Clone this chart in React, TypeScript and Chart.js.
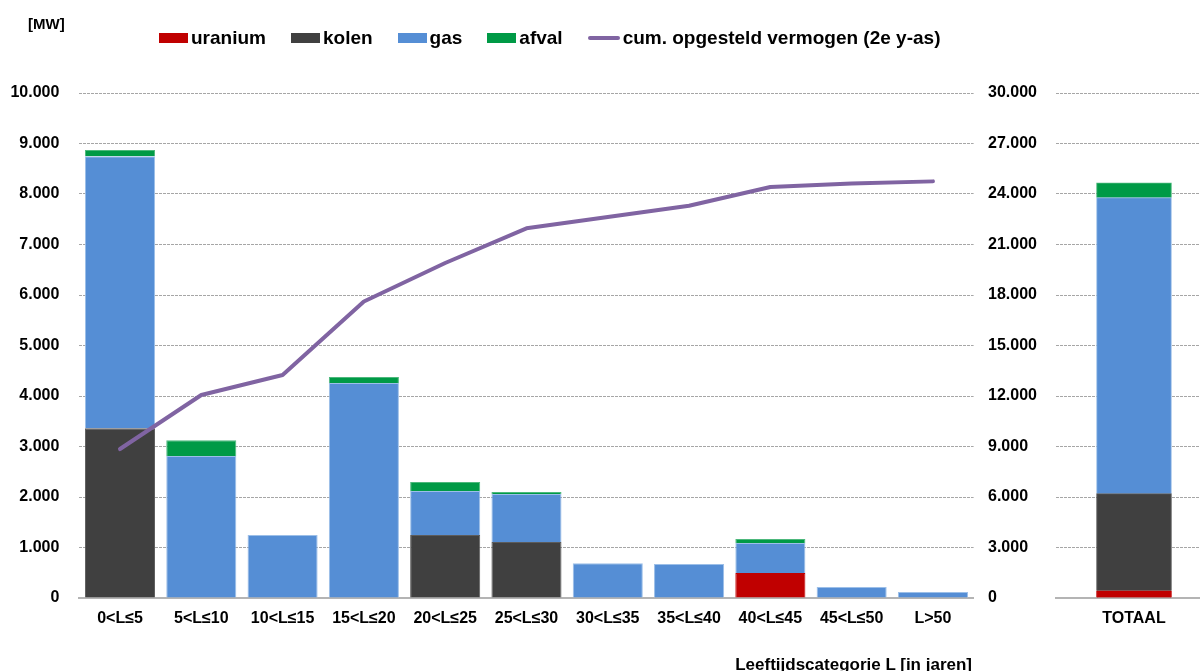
import React, { useEffect, useRef } from "react";
import { Chart, registerables } from "chart.js";

Chart.register(...registerables);

const categories = ["0<L≤5", "5<L≤10", "10<L≤15", "15<L≤20", "20<L≤25", "25<L≤30", "30<L≤35", "35<L≤40", "40<L≤45", "45<L≤50", "L>50"];
const uranium = [0, 0, 0, 0, 0, 0, 0, 0, 495, 0, 0];
const kolen = [3360, 0, 0, 0, 1250, 1110, 0, 0, 0, 0, 0];
const gas = [5390, 2810, 1250, 4255, 870, 950, 690, 675, 595, 220, 120];
const afval = [120, 315, 0, 120, 175, 40, 0, 0, 80, 0, 0];
const cumulatief = [8850, 12060, 13250, 17610, 19900, 21960, 22630, 23300, 24420, 24620, 24750];

const totaalLabels = ["TOTAAL"];
const totaalUranium = [430];
const totaalKolen = [5770];
const totaalGas = [17580];
const totaalAfval = [880];

const leftMax = 10000;
const leftStep = 1000;
const rightMax = 30000;
const rightStep = 3000;

const legendItems = [
  { label: "uranium", color: "#c00000", type: "box" },
  { label: "kolen", color: "#404040", type: "box" },
  { label: "gas", color: "#558ed5", type: "box" },
  { label: "afval", color: "#009a46", type: "box" },
  { label: "cum. opgesteld vermogen (2e y-as)", color: "#8064a2", type: "line" },
];

const FONT = "'Liberation Sans', Arial, Helvetica, sans-serif";
const fmt = (v: any) => String(v).replace(/\B(?=(\d{3})+(?!\d))/g, ".");

const GRID = "#a6a6a6";
const AXIS = "#b4b4b4";

const colors = {
  uranium: { bg: "#c00000", border: "#c00000" },
  kolen: { bg: "#404040", border: "#5c5c5c" },
  gas: { bg: "#558ed5", border: "#9cbfe8" },
  afval: { bg: "#009a46", border: "#4db87c" },
};

function barSet(label: string, data: number[], c: { bg: string; border: string }, extra: any) {
  return {
    type: "bar" as const,
    label,
    data,
    backgroundColor: c.bg,
    borderColor: c.border,
    borderWidth: 1,
    order: 1,
    ...extra,
  };
}

export default function App() {
  const mainRef = useRef<HTMLCanvasElement>(null);
  const totRef = useRef<HTMLCanvasElement>(null);

  useEffect(() => {
    Chart.defaults.font.family = FONT;
    const tickFont = { family: FONT, size: 16, weight: "bold" as const };

    const barExtra = { barPercentage: 0.862, categoryPercentage: 1, yAxisID: "y" };

    const c1 = new Chart(mainRef.current!, {
      type: "bar",
      data: {
        labels: categories,
        datasets: [
          {
            type: "line" as const,
            label: "cum. opgesteld vermogen (2e y-as)",
            data: cumulatief,
            borderColor: "#8064a2",
            backgroundColor: "#8064a2",
            borderWidth: 4,
            borderCapStyle: "round",
            borderJoinStyle: "round",
            pointRadius: 0,
            tension: 0,
            yAxisID: "y2",
            order: 0,
          } as any,
          barSet("uranium", uranium, colors.uranium, barExtra),
          barSet("kolen", kolen, colors.kolen, barExtra),
          barSet("gas", gas, colors.gas, barExtra),
          barSet("afval", afval, colors.afval, barExtra),
        ],
      },
      options: {
        responsive: false,
        maintainAspectRatio: false,
        animation: false,
        layout: { padding: { top: 93, left: 0, right: 11.4, bottom: 0 } },
        plugins: { legend: { display: false }, tooltip: { enabled: false } },
        scales: {
          x: {
            stacked: true,
            grid: { display: false, drawTicks: false },
            border: { display: true, color: AXIS, width: 2 },
            ticks: { font: tickFont, color: "#000", padding: 11, maxRotation: 0, autoSkip: false },
            afterFit: (s: any) => { s.height = 73; },
          },
          y: {
            stacked: true,
            min: 0,
            max: leftMax,
            grid: { color: GRID, lineWidth: 1, drawTicks: false },
            border: { display: false, dash: [3, 1] },
            ticks: { stepSize: leftStep, font: tickFont, color: "#000", padding: 20, callback: (v: any) => fmt(v) },
            afterFit: (s: any) => { s.width = 79.35; },
          },
          y2: {
            display: false,
            min: 0,
            max: rightMax,
            position: "right",
          },
        },
      } as any,
    });

    const totExtra = { barThickness: 75 };
    const c2 = new Chart(totRef.current!, {
      type: "bar",
      data: {
        labels: totaalLabels,
        datasets: [
          barSet("uranium", totaalUranium, colors.uranium, totExtra),
          barSet("kolen", totaalKolen, colors.kolen, totExtra),
          barSet("gas", totaalGas, colors.gas, totExtra),
          barSet("afval", totaalAfval, colors.afval, totExtra),
        ],
      },
      options: {
        responsive: false,
        maintainAspectRatio: false,
        animation: false,
        layout: { padding: { top: 93, left: 8, right: 0, bottom: 0 } },
        plugins: { legend: { display: false }, tooltip: { enabled: false } },
        scales: {
          x: {
            stacked: true,
            grid: { display: false, drawTicks: false },
            border: { display: true, color: AXIS, width: 2 },
            ticks: { font: tickFont, color: "#000", padding: 11, maxRotation: 0 },
            afterFit: (s: any) => { s.height = 73; },
          },
          y: {
            stacked: true,
            min: 0,
            max: rightMax,
            grid: { color: GRID, lineWidth: 1, drawTicks: false },
            border: { display: false, dash: [3, 1] },
            ticks: { stepSize: rightStep, font: tickFont, color: "#000", crossAlign: "far", callback: (v: any) => fmt(v) },
            afterFit: (s: any) => { s.width = 68; },
          },
        },
      } as any,
    });

    return () => {
      c1.destroy();
      c2.destroy();
    };
  }, []);

  return (
    <div
      style={{
        position: "fixed",
        left: 0,
        top: 0,
        width: 1200,
        height: 671,
        overflow: "hidden",
        background: "#fff",
        fontFamily: FONT,
        color: "#000",
      }}
    >
      <canvas ref={mainRef} width={985} height={671} style={{ position: "absolute", left: 0, top: 0, width: 985, height: 671 }} />
      <canvas ref={totRef} width={232} height={671} style={{ position: "absolute", left: 980, top: 0, width: 232, height: 671 }} />
      <div style={{ position: "absolute", left: 28, top: 15, fontSize: 15, fontWeight: "bold", lineHeight: "18px" }}>[MW]</div>
      <div
        style={{
          position: "absolute",
          left: 159,
          top: 27,
          display: "flex",
          alignItems: "center",
          fontSize: 19,
          fontWeight: "bold",
          lineHeight: "22px",
          whiteSpace: "nowrap",
        }}
      >
        {legendItems.map((it) => (
          <div key={it.label} style={{ display: "flex", alignItems: "center", marginRight: 25 }}>
            <span
              style={{
                display: "inline-block",
                width: it.type === "box" ? 29 : 32,
                height: it.type === "box" ? 10 : 4,
                borderRadius: it.type === "box" ? 0 : 2,
                background: it.color,
                marginRight: 3,
              }}
            />
            <span>{it.label}</span>
          </div>
        ))}
      </div>
      <div
        style={{
          position: "absolute",
          right: 228,
          top: 655,
          fontSize: 17,
          fontWeight: "bold",
          lineHeight: "20px",
          whiteSpace: "nowrap",
        }}
      >
        Leeftijdscategorie L [in jaren]
      </div>
    </div>
  );
}
